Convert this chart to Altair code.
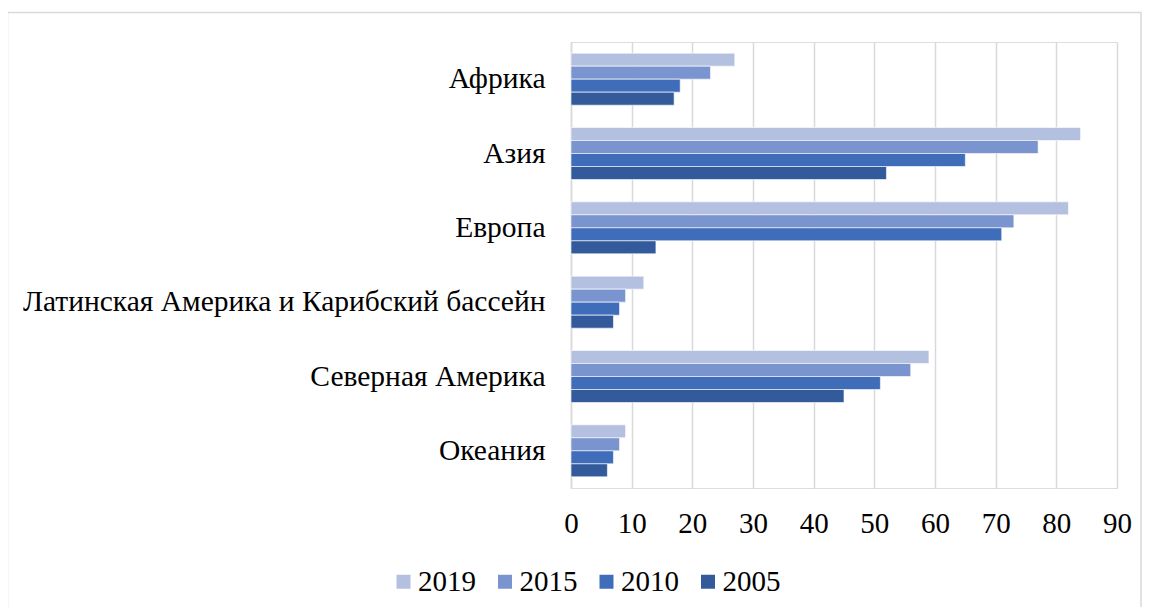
import altair as alt
import pandas as pd

regions = ["Африка", "Азия\u00a0", "Европа\u00a0", "Латинская Америка и Карибский бассейн",
           "Северная Америка", "Океания"]
years = ["2019", "2015", "2010", "2005"]
v2019 = [27, 84, 82, 12, 59, 9]
v2015 = [23, 77, 73, 9, 56, 8]
v2010 = [18, 65, 71, 8, 51, 7]
v2005 = [17, 52, 14, 7, 45, 6]
colors = ["#B4C0E0", "#7A94CF", "#3F6DBA", "#335B9B"]
x_ticks = [0, 10, 20, 30, 40, 50, 60, 70, 80, 90]

rows = []
for yr, vals in zip(years, [v2019, v2015, v2010, v2005]):
    for r, v in zip(regions, vals):
        rows.append({"region": r, "year": yr, "value": v})
df = pd.DataFrame(rows)

FONT = "Liberation Serif"

bars = alt.Chart(df).mark_bar(stroke="#ffffff", strokeOpacity=0.6, strokeWidth=1).encode(
    y=alt.Y("region:N", sort=regions, title=None,
            scale=alt.Scale(paddingInner=0.3, paddingOuter=0.15),
            axis=alt.Axis(labelFont=FONT, labelFontSize=29.5, labelColor="#000000",
                          labelPadding=26, labelLimit=1000, ticks=False,
                          domainColor="#D9D9D9", domainWidth=1.5, grid=False)),
    yOffset=alt.YOffset("year:N", sort=years, scale=alt.Scale(paddingInner=0, paddingOuter=0)),
    x=alt.X("value:Q", title=None,
            scale=alt.Scale(domain=[0, 90], nice=False),
            axis=alt.Axis(values=x_ticks, labelFont=FONT, labelFontSize=29, labelColor="#000000",
                          labelBaseline="middle", labelPadding=35, labelFlush=False,
                          ticks=False, domain=False,
                          grid=True, gridColor="#D9D9D9", gridWidth=1.5)),
    color=alt.Color("year:N", sort=years,
                    scale=alt.Scale(domain=years, range=colors),
                    legend=alt.Legend(title=None, orient="none", direction="horizontal",
                                      legendX=-182, legendY=525, padding=0,
                                      symbolType="square", symbolSize=196,
                                      symbolStrokeWidth=0, labelFont=FONT,
                                      labelFontSize=29, labelColor="#000000",
                                      labelOffset=0, columnPadding=14.5)),
)

frame = alt.Chart(pd.DataFrame({"a": [0]})).mark_rect(
    filled=False, stroke="#D9D9D9", strokeWidth=1.5, clip=False
).encode(
    x=alt.value(-563.5), x2=alt.value(570), y=alt.value(-29.5), y2=alt.value(600)
)

chart = alt.layer(frame, bars).properties(
    width=546, height=446,
    autosize=alt.AutoSizeParams(type="none"),
    padding={"left": 563, "top": 34, "right": 25, "bottom": 119},
).configure_view(stroke=None).configure(background="#ffffff")

chart.save("out.html", embed_options={"renderer": "svg", "actions": False})
